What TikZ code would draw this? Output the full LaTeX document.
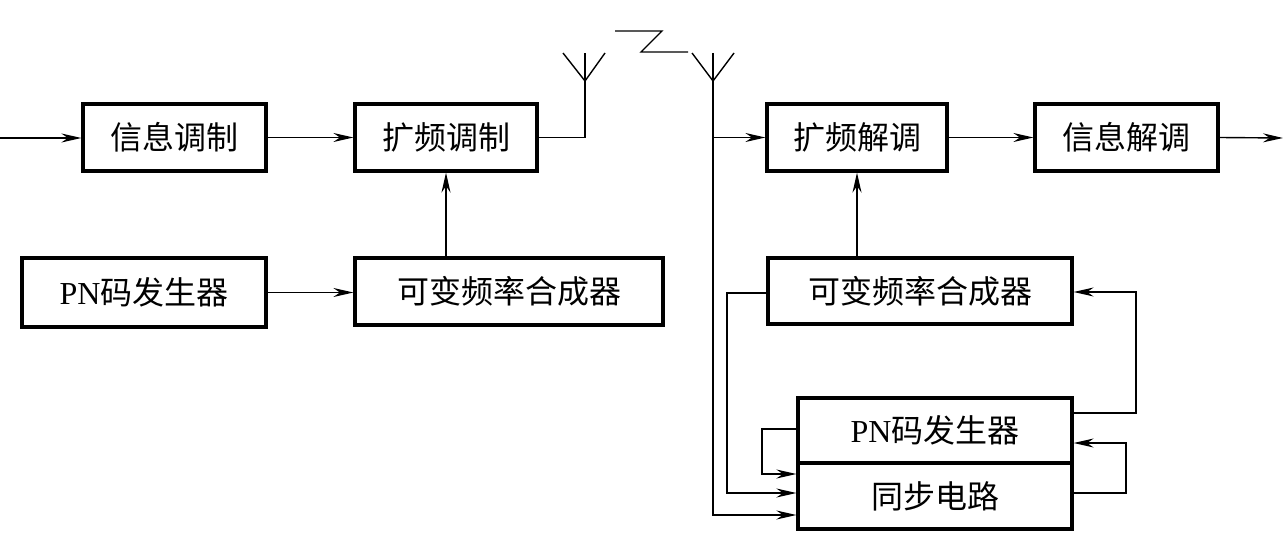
\documentclass[tikz,border=0pt]{standalone}
\usepackage{fontspec}
\setmainfont{Liberation Serif}
\newfontfamily\cjk{Noto Sans CJK SC}
\newfontfamily\latin{Liberation Serif}
\usetikzlibrary{arrows.meta}
\begin{document}
\begin{tikzpicture}[x=0.5pt,y=-0.5pt,
 blk/.style={draw,line width=1.6pt,minimum height=33.5pt,inner sep=0pt,font=\cjk\fontsize{16}{16}\selectfont},
 conn/.style={line width=0.7pt},
 arr/.style={conn,-{Stealth[length=10pt,width=4.5pt]}}]
\useasboundingbox (0,0) rectangle (1283,534);
\node[blk,minimum width=91.5pt] (b1) at (174.5,137.5) {信息调制};
\node[blk,minimum width=91pt] (b2) at (446,137.5) {扩频调制};
\node[blk,minimum width=122pt,minimum height=34.5pt] (b3) at (144,292.5) {{\latin PN}码发生器};
\node[blk,minimum width=154pt] (b4) at (509,291.5) {可变频率合成器};
\node[blk,minimum width=90pt] (b5) at (857,137.5) {扩频解调};
\node[blk,minimum width=91.5pt] (b6) at (1126.5,137.5) {信息解调};
\node[blk,minimum width=152pt,minimum height=33pt] (b7) at (920,291) {可变频率合成器};
\node[blk,minimum width=137pt,minimum height=32.5pt] (b8) at (935,430.5) {{\latin PN}码发生器};
\node[blk,minimum width=137pt,minimum height=33pt] (b9) at (935,496) {同步电路};
% transmitter
\coordinate (in) at (0,138);
\draw[arr] (in) -- (in -| b1.west);
\draw[arr] (b1) -- (b2);
\draw[arr] (b3.east) -- (b3.east -| b4.west);
\draw[arr] (b2.south |- b4.north) -- (b2.south);
\coordinate (t1) at (585,81);
\draw[conn] (b2.east) -| (t1);
\draw[conn] (563,53) -- (t1) -- (605,53);
\draw[conn] (t1) -- (585,53);
% zigzag
\draw[conn] (615,31) -- (662,31) -- (641,52) -- (688,52);
% receiver
\coordinate (r1) at (713,81);
\coordinate (r2) at (713,515);
\draw[conn] (692,53) -- (r1) -- (734,53);
\draw[conn] (713,53) -- (r1);
\draw[arr] (r1) -- (r2) -- (r2 -| b9.west);
\draw[arr] (b5.west -| r1) -- (b5.west);
\draw[arr] (b5) -- (b6);
\coordinate (out) at (1283,138);
\draw[arr] (b6.east) -- (out);
\draw[arr] (b7.north -| b5) -- (b5.south);
% feedback
\draw[arr] (b8.east |- 0,413) -- (1136,413) -- (1136,292) -- (b7.east |- 0,292);
\draw[arr] (b9.east |- 0,493) -- (1126,493) -- (1126,443) -- (b8.east |- 0,443);
\draw[arr] (b8.west |- 0,429) -- (762,429) -- (762,474) -- (b9.west |- 0,474);
\draw[arr] (b7.west |- 0,293) -- (727,293) -- (727,493) -- (b9.west |- 0,493);
\end{tikzpicture}
\end{document}
